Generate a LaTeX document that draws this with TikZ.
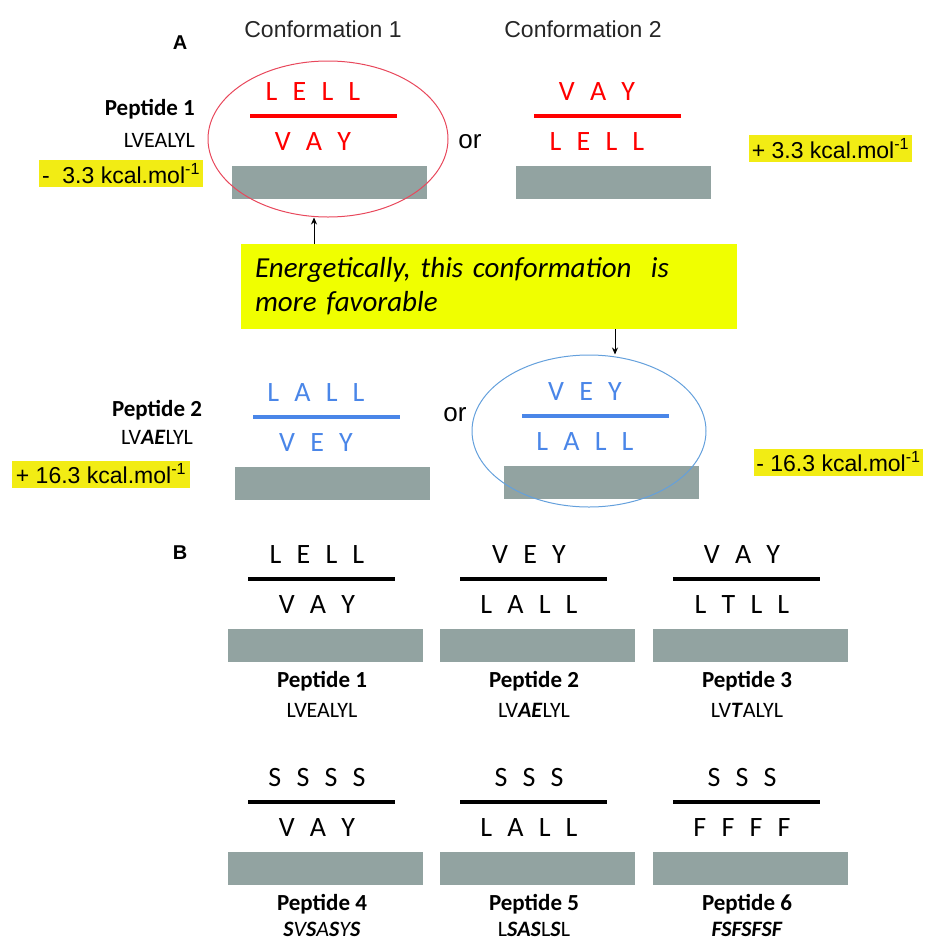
\documentclass[tikz,border=0pt]{standalone}
\usepackage{fontspec}
\setmainfont{Carlito}
\newfontfamily\arialfont{Liberation Sans}
\newfontfamily\resfont[WordSpace=2.4]{Carlito}
\usetikzlibrary{arrows.meta,shapes.geometric}
\definecolor{slabc}{RGB}{146,163,161}
\definecolor{redc}{RGB}{255,0,0}
\definecolor{bluec}{RGB}{74,134,232}
\definecolor{ringred}{RGB}{232,72,92}
\definecolor{ringblue}{RGB}{100,160,220}
\definecolor{hilite}{RGB}{242,236,20}
\definecolor{notec}{RGB}{240,255,0}
\definecolor{inkc}{RGB}{38,38,38}

\begin{document}
\begin{tikzpicture}[x=1pt, y=-1pt, >=Stealth,
  slab/.style={fill=slabc, minimum width=195, minimum height=33, inner sep=0},
  res/.style={font=\resfont\fontsize{28}{30}\selectfont, inner sep=0},
  peplab/.style={font=\bfseries\fontsize{23}{26}\selectfont, inner sep=0},
  pepseq/.style={font=\fontsize{22}{26}\selectfont, inner sep=0},
  energy/.style={fill=hilite, font=\arialfont\fontsize{23}{26}\selectfont,
    minimum height=27, inner xsep=2, inner ysep=0},
  conf/.style={font=\arialfont\fontsize{23}{26}\selectfont, text=inkc},
  ortext/.style={font=\arialfont\fontsize{26}{28}\selectfont},
  panel/.style={font=\arialfont\bfseries\fontsize{20}{22}\selectfont},
  ring/.style={ellipse, draw, line width=1pt, inner sep=0},
  arr/.style={-{Stealth[length=7pt,width=6pt]}, line width=0.8pt}]
  \useasboundingbox (0,0) rectangle (931,940);

  % panel A: two peptides, two conformations each
  \node[panel] (lblA) at (180,43) {A};
  \node[conf] (conf1) at (323,29) {Conformation 1};
  \node[conf] (conf2) at (583,29) {Conformation 2};

  \foreach \id/\cx/\cy/\topres/\botres/\col in
    {a1/329/182/L E L L/V A Y/redc, a2/613/182/V A Y/L E L L/redc,
     a3/332/483/L A L L/V E Y/bluec, a4/601/482/V E Y/L A L L/bluec}{
    \node[slab] (slab-\id) at (\cx,\cy) {};
    \draw[\col, line width=4.5] (\cx-79,\cy-66) -- (\cx+68,\cy-66);
    \node[res, text=\col] (up-\id) at (\cx-16,\cy-90) {\topres};
    \node[res, text=\col] (dn-\id) at (\cx-16,\cy-40) {\botres};
  }

  \node[peplab, anchor=east] (pep1) at (195,109) {Peptide 1};
  \node[pepseq, anchor=east] (seq1) at (195,140) {LVEALYL};
  \node[peplab] (pep2) at (157,410) {Peptide 2};
  \node[pepseq] (seq2) at (157,437) {LV\textbf{\textit{AE}}LYL};

  \node[ortext] (or1) at (470,142) {or};
  \node[ortext] (or2) at (455,415) {or};

  \node[energy, minimum width=164] (e1) at (121,173.5) {-~\ 3.3 kcal.mol\textsuperscript{-1}};
  \node[energy, minimum width=163] (e2) at (830.5,148.5) {+ 3.3 kcal.mol\textsuperscript{-1}};
  \node[energy, minimum width=178] (e3) at (101,474) {+ 16.3 kcal.mol\textsuperscript{-1}};
  \node[energy, minimum width=153] (e4) at (838.5,462) {- 16.3 kcal.mol\textsuperscript{-1}};

  % favoured conformations
  \node[ring, draw=ringred, minimum width=240, minimum height=156] (ring1) at (328,139) {};
  \node[ring, draw=ringblue, minimum width=234, minimum height=152] (ring2) at (589,431) {};

  \node[fill=notec, minimum width=496, minimum height=85, text width=468, align=left,
    inner sep=0, font=\itshape\fontsize{29}{34}\selectfont] (note) at (489,286.5)
    {Energetically, this conformation\ \ is\\more favorable};

  \coordinate (tip1) at ([xshift=-14]ring1.south);
  \coordinate (tip2) at ([xshift=26]ring2.north);
  \draw[arr] (note.north -| tip1) -- (tip1);
  \draw[arr] (note.south -| tip2) -- (tip2);

  % panel B: six peptides on the surface
  \node[panel] (lblB) at (180,553) {B};
  \foreach \id/\cx/\cy/\topres/\botres/\pep/\sq/\dy in
    {b1/325/645/L E L L/V A Y/Peptide 1/{LVEALYL}/65,
     b2/537/645/V E Y/L A L L/Peptide 2/{LV\textbf{\textit{AE}}LYL}/65,
     b3/750/645/V A Y/L T L L/Peptide 3/{LV\textbf{\textit{T}}ALYL}/65,
     b4/325/868/S S S S/V A Y/Peptide 4/{\textit{\textbf{S}V\textbf{S}A\textbf{S}Y\textbf{S}}}/61,
     b5/537/868/S S S/L A L L/Peptide 5/{L\textbf{\textit{SAS}}L\textbf{\textit{S}}L}/61,
     b6/750/868/S S S/F F F F/Peptide 6/{\textbf{\textit{FSFSFSF}}}/61}{
    \node[slab] (slab-\id) at (\cx,\cy) {};
    \draw[black, line width=4] (\cx-77,\cy-66) -- (\cx+70,\cy-66);
    \node[res] (up-\id) at (\cx-8,\cy-90) {\topres};
    \node[res] (dn-\id) at (\cx-8,\cy-40) {\botres};
    \node[peplab] (pep-\id) at (\cx-3,\cy+36) {\pep};
    \node[pepseq] (seq-\id) at (\cx-3,\cy+\dy) {\sq};
  }
\end{tikzpicture}
\end{document}
